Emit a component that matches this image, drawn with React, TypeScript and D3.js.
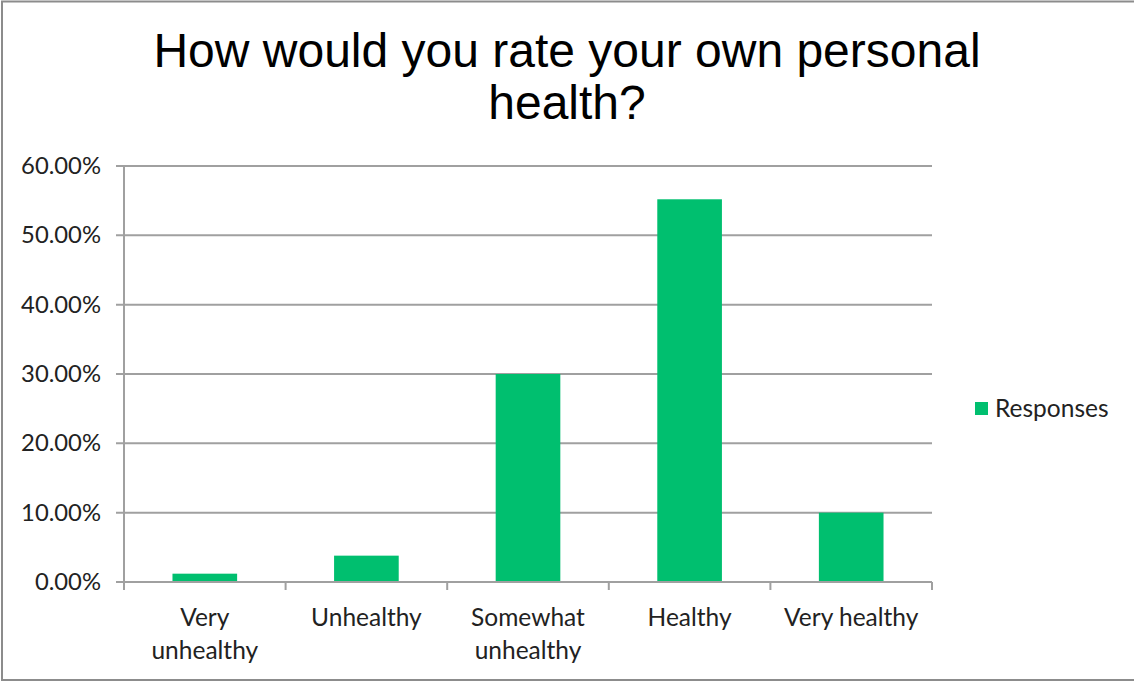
import React, { useEffect, useRef } from "react";
import * as d3 from "d3";

const categories: string[][] = [
  ["Very", "unhealthy"],
  ["Unhealthy"],
  ["Somewhat", "unhealthy"],
  ["Healthy"],
  ["Very healthy"],
];
const responses: number[] = [0.012, 0.038, 0.3, 0.552, 0.1];
const yTicks: number[] = [0, 0.1, 0.2, 0.3, 0.4, 0.5, 0.6];
const seriesName = "Responses";
const titleLines = ["How would you rate your own personal", "health?"];

const W = 1134;
const H = 682;
const GREEN = "#00BF6F";
const GRID = "#a0a0a0";
const LABEL_FONT = "Lato, 'Open Sans', sans-serif";

export default function App() {
  const ref = useRef<SVGSVGElement | null>(null);

  useEffect(() => {
    const svg = d3.select(ref.current);
    svg.selectAll("*").remove();

    const left = 124, right = 932, top = 166, bottom = 582;
    const keys = categories.map((_, i) => String(i));
    const x = d3.scaleBand<string>().domain(keys).range([left, right]).paddingInner(0.6).paddingOuter(0.3);
    const xb = d3.scaleBand<string>().domain(keys).range([left, right]);
    const y = d3.scaleLinear().domain([0, 0.6]).range([bottom, top]);

    // border
    svg.append("rect").attr("x", 2).attr("y", 1.5).attr("width", W + 10).attr("height", 678.5)
      .attr("fill", "white").attr("stroke", "#8c8c8c").attr("stroke-width", 2);

    // title
    svg.append("g").selectAll("text").data(titleLines).join("text")
      .attr("x", 567).attr("y", (_, i) => 67 + i * 52)
      .attr("text-anchor", "middle")
      .attr("font-family", "'Liberation Sans', Arial, sans-serif")
      .attr("font-size", 48).attr("fill", "#000")
      .text(d => d);

    // gridlines
    svg.append("g").selectAll("line").data(yTicks).join("line")
      .attr("x1", left - 8).attr("x2", right)
      .attr("y1", d => y(d)).attr("y2", d => y(d))
      .attr("stroke", GRID).attr("stroke-width", 2);

    // y labels
    svg.append("g").selectAll("text").data(yTicks).join("text")
      .attr("x", 101).attr("y", d => y(d) + 8)
      .attr("text-anchor", "end")
      .attr("font-family", LABEL_FONT).attr("font-size", 23.8).attr("fill", "#222")
      .text(d => d3.format(".2%")(d));

    // bars
    svg.append("g").selectAll("rect").data(responses).join("rect")
      .attr("x", (_, i) => x(String(i))!)
      .attr("width", x.bandwidth())
      .attr("y", d => y(d))
      .attr("height", d => bottom - y(d))
      .attr("fill", GREEN);

    // axes lines
    svg.append("line").attr("x1", left).attr("x2", left).attr("y1", top).attr("y2", bottom + 8)
      .attr("stroke", GRID).attr("stroke-width", 2);
    svg.append("line").attr("x1", left).attr("x2", right).attr("y1", bottom).attr("y2", bottom)
      .attr("stroke", GRID).attr("stroke-width", 2);
    const tickXs = keys.map(k => xb(k)! + xb.bandwidth());
    svg.append("g").selectAll("line").data(tickXs).join("line")
      .attr("x1", d => d).attr("x2", d => d).attr("y1", bottom).attr("y2", bottom + 8)
      .attr("stroke", GRID).attr("stroke-width", 2);

    // x labels
    const xl = svg.append("g").selectAll("text").data(categories).join("text")
      .attr("text-anchor", "middle")
      .attr("font-family", LABEL_FONT).attr("font-size", 24.5).attr("fill", "#222");
    xl.each(function (lines, i) {
      const t = d3.select(this);
      lines.forEach((ln, j) => {
        t.append("tspan").attr("x", xb(String(i))! + xb.bandwidth() / 2)
          .attr("y", 626 + j * 33).text(ln);
      });
    });

    // legend
    svg.append("rect").attr("x", 975).attr("y", 402).attr("width", 13).attr("height", 13).attr("fill", GREEN);
    svg.append("text").attr("x", 995).attr("y", 417)
      .attr("font-family", LABEL_FONT).attr("font-size", 24.5).attr("fill", "#222")
      .text(seriesName);
  }, []);

  return (
    <svg ref={ref} width={W} height={H}
      style={{ position: "absolute", left: 0, top: 0, background: "white" }} />
  );
}
